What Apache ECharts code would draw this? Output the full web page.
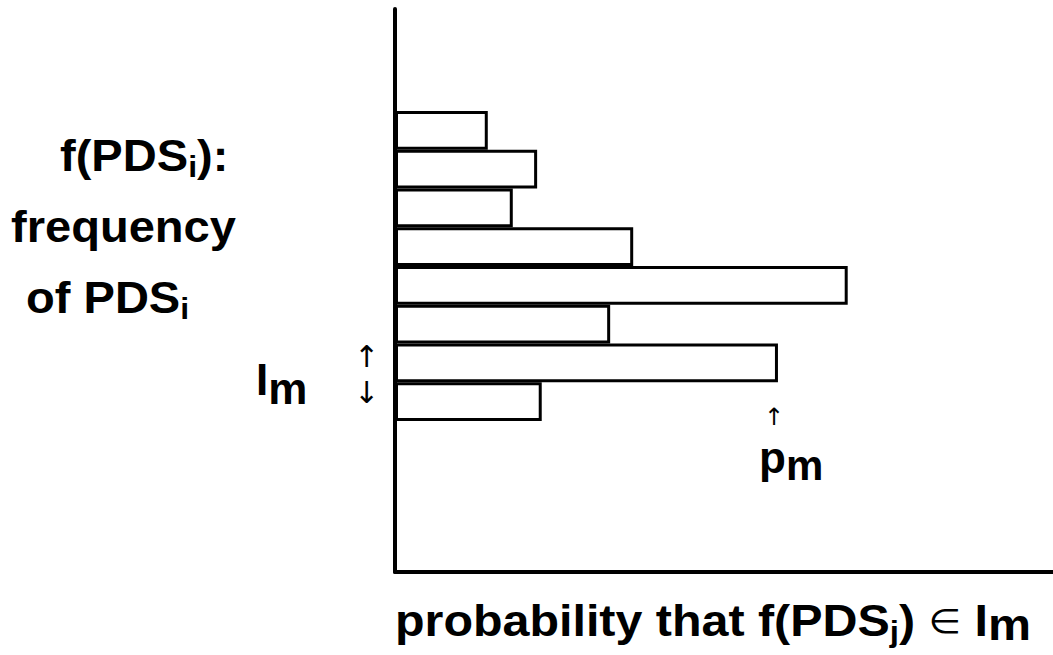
<!DOCTYPE html>
<html>
<head>
<meta charset="utf-8">
<script src="https://cdn.jsdelivr.net/npm/echarts@6/dist/echarts.min.js"></script>
<style>
  html, body { margin: 0; padding: 0; background: #fff; }
  #main { width: 1053px; height: 655px; }
</style>
</head>
<body>
<div id="main"></div>
<script>
// intervals I_m, top to bottom
const intervals = ['I1', 'I2', 'I3', 'I4', 'I5', 'I6', 'I7', 'I8'];
// probability p_m for each interval (axis runs 0..1 across the plot)
const probs = [0.141, 0.216, 0.179, 0.362, 0.688, 0.327, 0.582, 0.223];

const FONT = '"Liberation Sans", Arial, Helvetica, sans-serif';

const main = { fontSize: 44, fontWeight: 'bold', fontFamily: FONT, lineHeight: 52, color: '#000' };
const sub = { fontSize: 30, fontWeight: 'bold', fontFamily: FONT, lineHeight: 30, verticalAlign: 'bottom', color: '#000' };
const subM = { fontSize: 44, fontWeight: 'bold', fontFamily: FONT, lineHeight: 44, verticalAlign: 'bottom', color: '#000' };
const sym = { fontSize: 34, fontWeight: 'normal', fontFamily: '"DejaVu Sans", sans-serif', lineHeight: 52, color: '#000' };
const arrow = { fontSize: 30, lineHeight: 24, fontFamily: '"DejaVu Sans", sans-serif', fill: '#000' };

const chart = echarts.init(document.getElementById('main'), null, { renderer: 'svg' });

const option = {
    backgroundColor: '#fff',
    animation: false,
    grid: [
        { left: 395, right: 0, top: 9, bottom: 83 },
        { left: 395, right: 0, top: 111, height: 310 }
    ],
    xAxis: [
        {
            gridIndex: 0, type: 'value', min: 0, max: 1,
            axisLine: { show: true, lineStyle: { color: '#000', width: 4 } },
            axisTick: { show: false }, axisLabel: { show: false }, splitLine: { show: false }
        },
        { gridIndex: 1, type: 'value', min: 0, max: 1, show: false }
    ],
    yAxis: [
        {
            gridIndex: 0, type: 'value',
            axisLine: { show: true, lineStyle: { color: '#000', width: 4 } },
            axisTick: { show: false }, axisLabel: { show: false }, splitLine: { show: false }
        },
        { gridIndex: 1, type: 'category', data: intervals, inverse: true, show: false }
    ],
    series: [
        {
            type: 'bar',
            xAxisIndex: 1,
            yAxisIndex: 1,
            data: probs,
            barCategoryGap: '0%',
            itemStyle: { color: '#fff', borderColor: '#000', borderWidth: 3 }
        }
    ],
    graphic: [
        {
            type: 'text', left: 60, top: 134, scaleX: 1.07,
            style: { text: '{m|f(PDS}{s|i}{m|):}', rich: { m: main, s: sub } }
        },
        {
            type: 'text', left: 11, top: 205, scaleX: 1.07,
            style: { text: '{m|frequency}', rich: { m: main } }
        },
        {
            type: 'text', left: 26, top: 276, scaleX: 1.07,
            style: { text: '{m|of PDS}{s|i}', rich: { m: main, s: sub } }
        },
        {
            type: 'text', left: 256, top: 357,
            style: { text: '{m|I}{bs|m}', rich: { m: Object.assign({}, main, { lineHeight: 62 }), bs: subM } }
        },
        { type: 'text', left: 354, top: 341, style: Object.assign({ text: '↑' }, arrow) },
        { type: 'text', left: 354, top: 377, style: Object.assign({ text: '↓' }, arrow) },
        {
            type: 'text', left: 764, top: 405,
            style: { text: '↑', fontSize: 24, lineHeight: 22, fontFamily: '"DejaVu Sans", sans-serif', fill: '#000' }
        },
        {
            type: 'text', left: 759, top: 435,
            style: {
                text: '{m|p}{bs|m}',
                rich: {
                    m: Object.assign({}, main, { lineHeight: 58 }),
                    bs: Object.assign({}, subM, { fontSize: 42, lineHeight: 42 })
                }
            }
        },
        {
            type: 'text', left: 395, top: 599, scaleX: 1.1,
            style: {
                text: '{m|probability that f(PDS}{s|j}{m|) }{e|∈}{m| I}{bs|m}',
                rich: { m: main, s: sub, e: sym, bs: subM }
            }
        }
    ]
};

chart.setOption(option);
</script>
</body>
</html>
